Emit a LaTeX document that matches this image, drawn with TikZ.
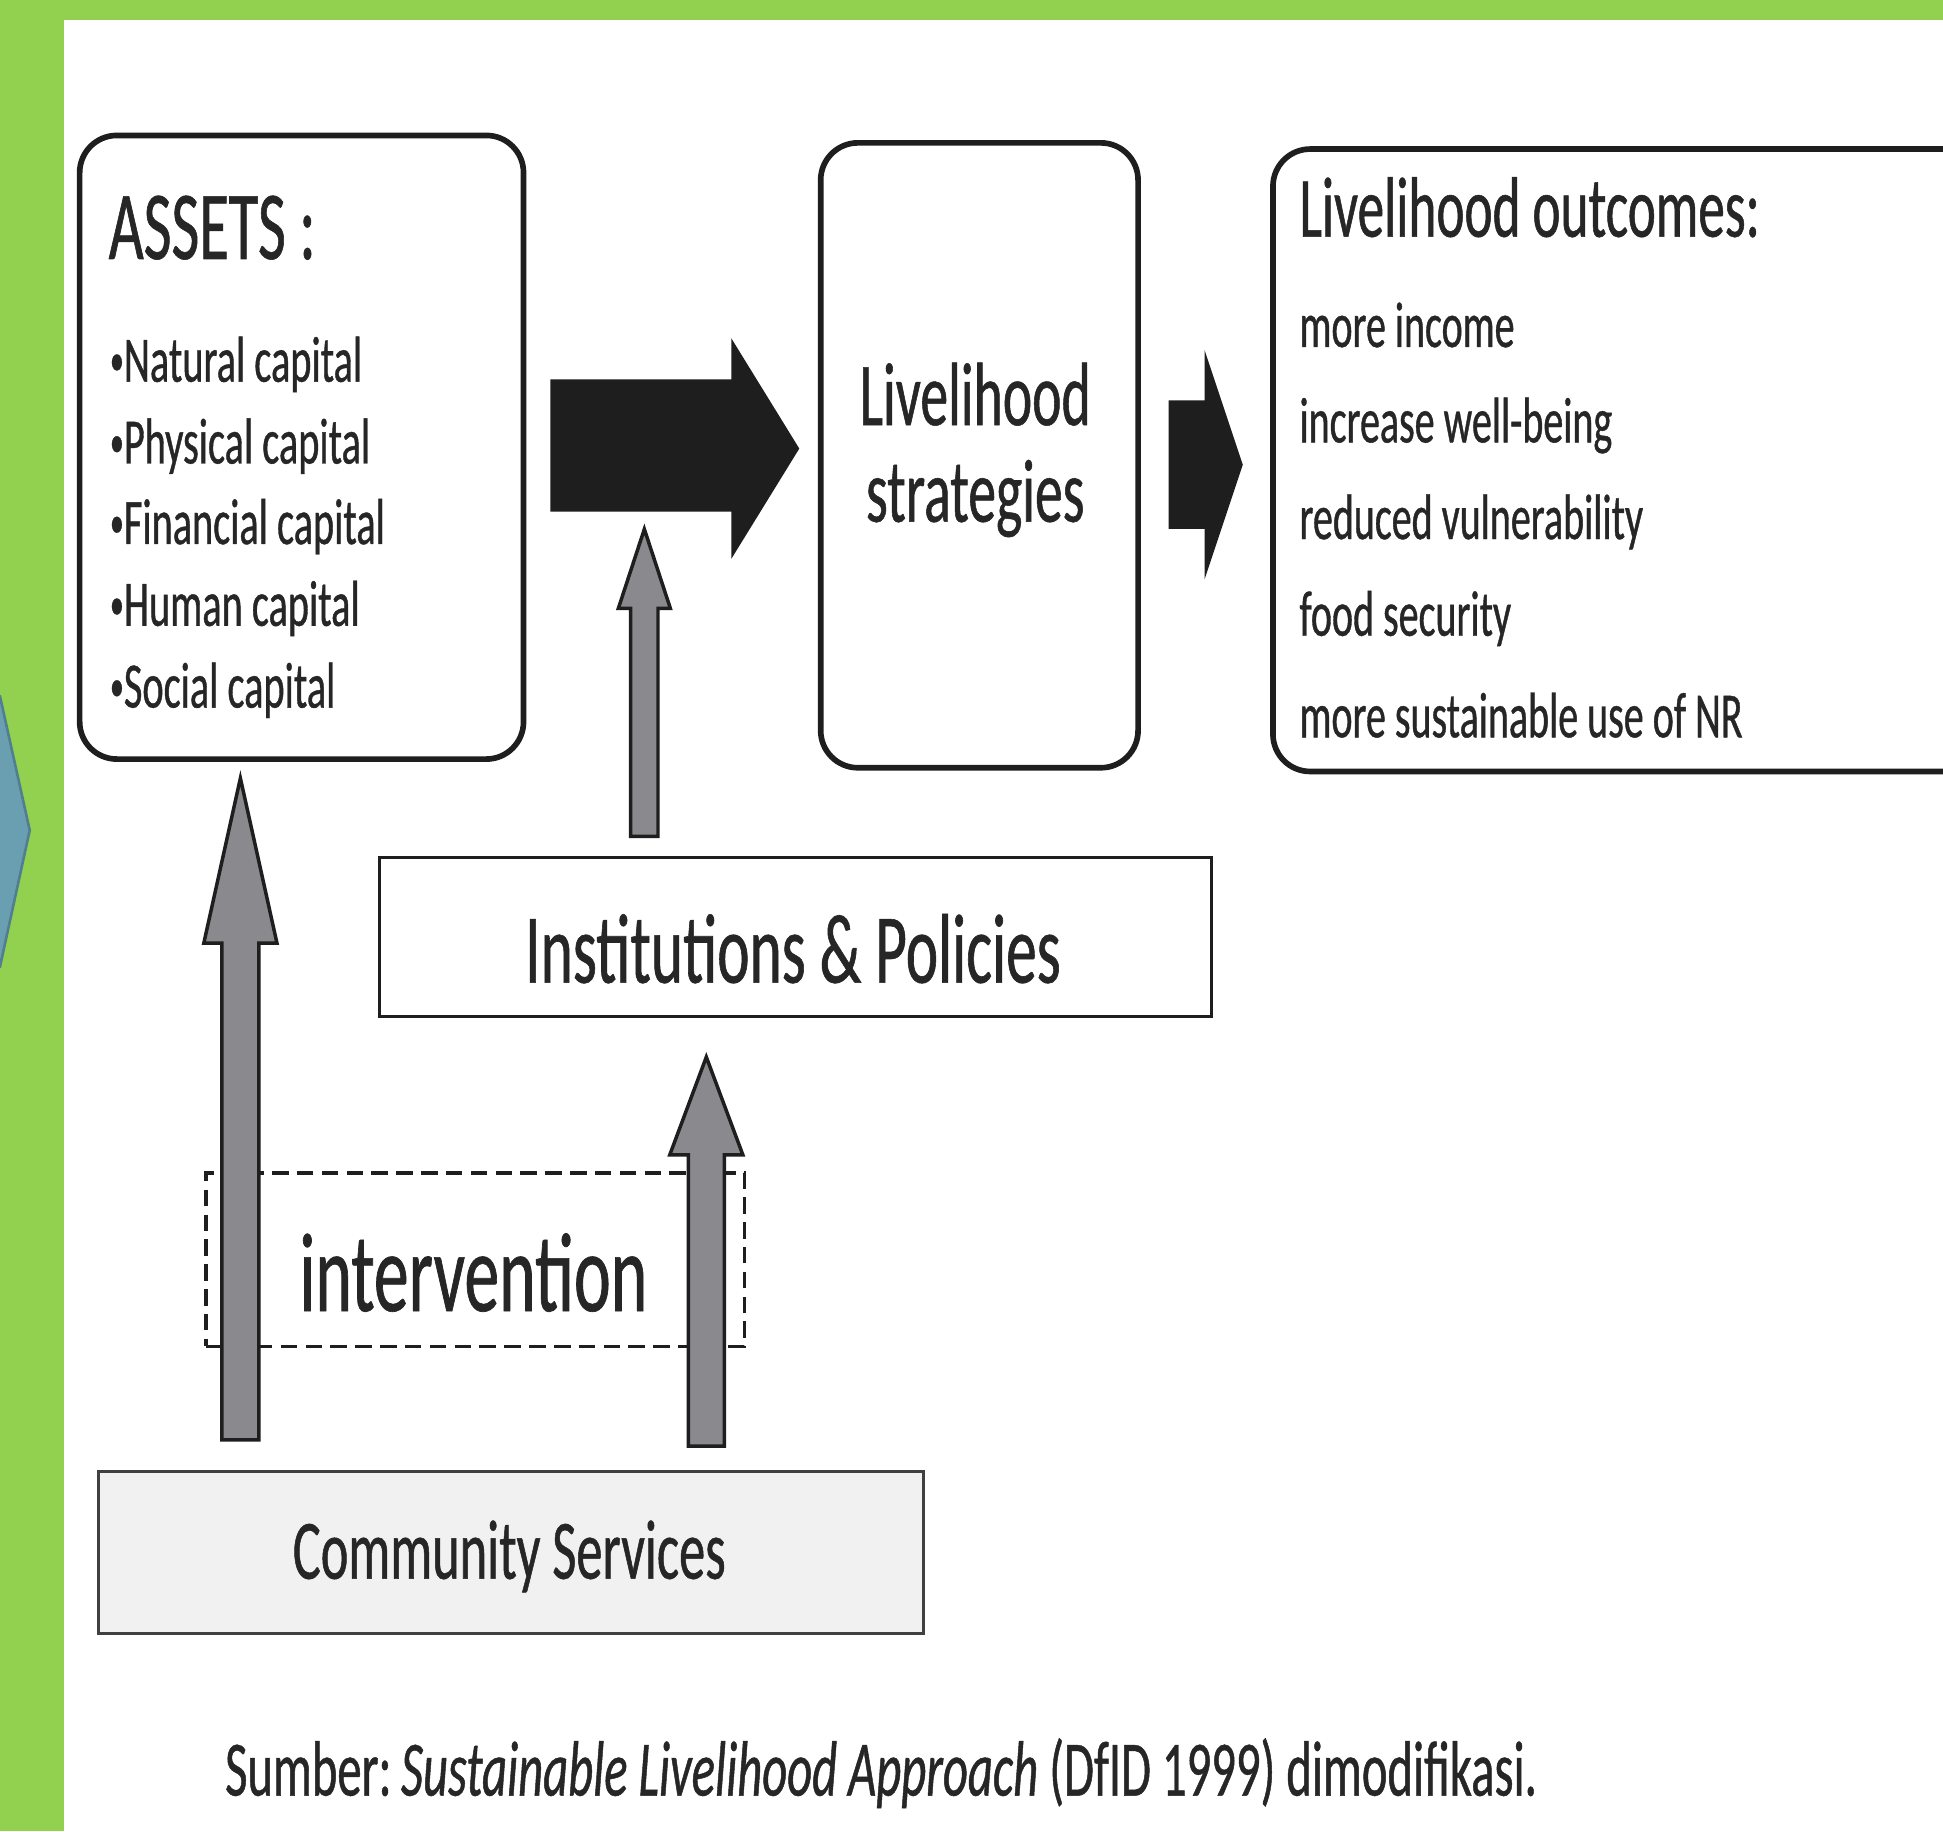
\documentclass[tikz,border=0pt]{standalone}
\usepackage{fontspec}
\setmainfont{Carlito}[FakeStretch=0.62, FakeBold=0.6]
\definecolor{pgreen}{HTML}{92D050}
\definecolor{chev}{HTML}{6A9FB1}
\definecolor{chevline}{HTML}{4F7F90}
\definecolor{ink}{HTML}{1E1E1E}
\definecolor{txt}{HTML}{262626}
\definecolor{arrgray}{HTML}{8A8A8E}
\definecolor{cfill}{HTML}{F1F1F1}
\newcommand{\fsz}[1]{\fontsize{#1}{#1}\selectfont}
\newcommand{\smbul}{\raisebox{0.1em}{\scalebox{0.7}{•}}}
% vertical block arrow: x, y bottom, y tip, shaft half width, head half width, y head base
\newcommand{\blockup}[7]{%
  \filldraw[#7] ({#1-#4},#2) -- ({#1-#4},#6) -- ({#1-#5},#6) -- (#1,#3)
    -- ({#1+#5},#6) -- ({#1+#4},#6) -- ({#1+#4},#2) -- cycle;}
\begin{document}
\begin{tikzpicture}[x=0.01cm,y=-0.01cm,
  rbox/.style={draw=ink, line width=1.3pt, rounded corners=0.3cm, inner sep=0pt},
  sbox/.style={draw=ink, line width=0.7pt, inner sep=0pt},
  dbox/.style={draw=ink, line width=0.8pt, dash pattern=on 3.8pt off 1.9pt, inner sep=0pt},
  blackarr/.style={fill=ink, draw=ink, line width=0.5pt},
  grayarr/.style={fill=arrgray, draw=ink, line width=0.8pt},
  lbl/.style={text=txt, inner sep=0pt}]
\useasboundingbox (0,0) rectangle (1568,1478);
\clip (0,0) rectangle (1568,1478);
% background
\fill[pgreen] (0,0) rectangle (1568,1478);
\fill[white] (52,16) rectangle (1568,1478);
\filldraw[fill=chev, draw=chevline, line width=0.6pt] (-10,562) -- (0,562) -- (24,670) -- (0,780) -- (-10,780) -- cycle;

% ASSETS box
\node[rbox, anchor=north west, minimum width=3.58cm, minimum height=5.03cm] (assets) at (62,107) {};
\node[lbl, anchor=base west, font=\fsz{22.4}] (assetsT) at (87,209) {ASSETS :};
\node[lbl, anchor=base west, font=\fsz{14.9}] (nat) at (88,308) {\smbul Natural capital};
\node[lbl, anchor=base west, font=\fsz{14.9}] (phy) at (88,374) {\smbul Physical capital};
\node[lbl, anchor=base west, font=\fsz{14.9}] (fin) at (88,439) {\smbul Financial capital};
\node[lbl, anchor=base west, font=\fsz{14.9}] (hum) at (88,505) {\smbul Human capital};
\node[lbl, anchor=base west, font=\fsz{14.9}] (soc) at (88,571) {\smbul Social capital};

% Livelihood strategies
\node[rbox, anchor=north west, minimum width=2.56cm, minimum height=5.04cm] (strat) at (660,113) {};
\node[lbl, anchor=base, font=\fsz{20.6}] (stratA) at (787,343) {Livelihood};
\node[lbl, anchor=base, font=\fsz{20.6}] (stratB) at (787,421) {strategies};

% Livelihood outcomes
\node[rbox, anchor=north west, minimum width=6.5cm, minimum height=5.02cm] (outc) at (1025,118) {};
\node[lbl, anchor=base west, font=\fsz{19.7}] (outT) at (1048,191) {Livelihood outcomes:};
\node[lbl, anchor=base west, font=\fsz{14.8}] (o1) at (1048,280) {more income};
\node[lbl, anchor=base west, font=\fsz{14.8}] (o2) at (1048,357) {increase well-being};
\node[lbl, anchor=base west, font=\fsz{14.8}] (o3) at (1048,435) {reduced vulnerability};
\node[lbl, anchor=base west, font=\fsz{14.8}] (o4) at (1048,513) {food security};
\node[lbl, anchor=base west, font=\fsz{14.8}] (o5) at (1048,595) {more sustainable use of NR};

% Institutions & Policies
\node[sbox, anchor=north west, minimum width=6.71cm, minimum height=1.28cm] (inst) at (305,691) {};
\node[lbl, anchor=base, font=\fsz{22.7}] (instT) at (640,793) {Institutions \& Policies};

% intervention (dashed)
\node[dbox, anchor=north west, minimum width=4.34cm, minimum height=1.40cm] (interv) at (165,945) {};
\node[lbl, anchor=base, font=\fsz{25.8}] (intervT) at (382,1058) {intervention};

% Community Services
\node[sbox, fill=cfill, draw=ink!85, anchor=north west, minimum width=6.66cm, minimum height=1.31cm] (comm) at (78,1186) {};
\node[lbl, anchor=base, font=\fsz{19.4}] (commT) at (411,1274) {Community Services};

% black arrows
\filldraw[blackarr] (445,307) -- (591,307) -- (591,276) -- (644,362) -- (591,448) -- (591,412) -- (445,412) -- cycle;
\filldraw[blackarr] (944,324) -- (973,324) -- (973,288) -- (1002,375) -- (973,462) -- (973,426) -- (944,426) -- cycle;

% gray arrows
\blockup{520}{675}{427}{11}{21}{491}{grayarr}
\blockup{194}{1162}{628}{15}{29.5}{761}{grayarr}
\blockup{570}{1167}{853}{14.5}{29.5}{932}{grayarr}

% caption
\node[lbl, anchor=base west, font=\fsz{18}] (cap) at (181,1449) {Sumber:\kern0.12em\textit{Sustainable Livelihood Approach} (DfID 1999) dimodifikasi.};
\end{tikzpicture}
\end{document}
